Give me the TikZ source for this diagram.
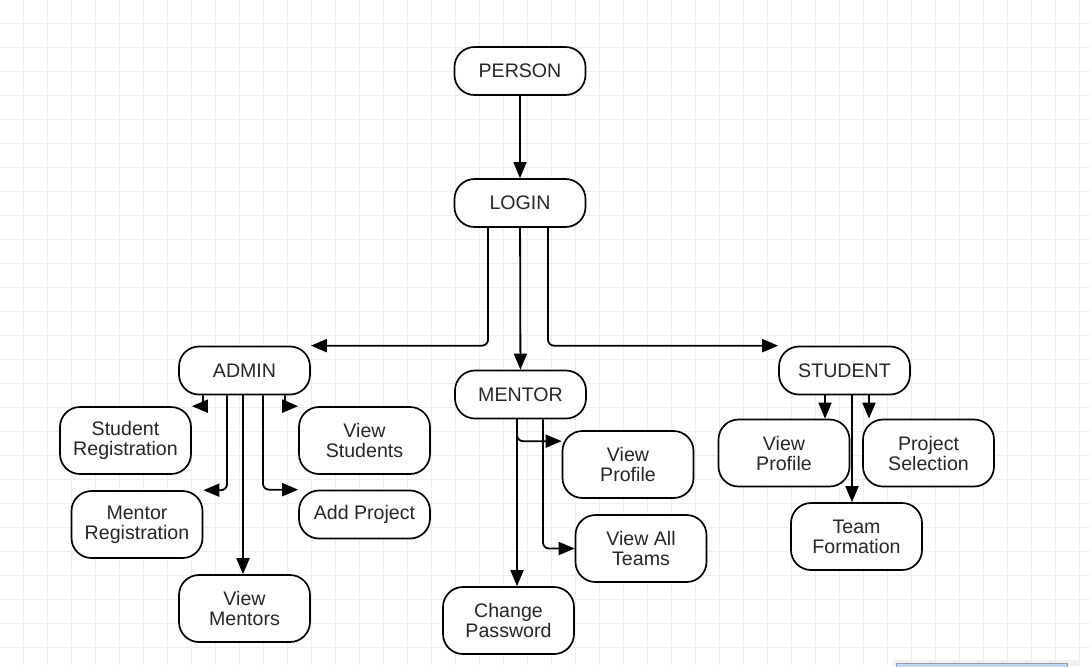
\documentclass[tikz,border=0pt]{standalone}
\usepackage{fontspec}
\setmainfont{Liberation Sans}
\usetikzlibrary{arrows.meta}
\definecolor{gridgray}{RGB}{238,238,238}
\definecolor{barblue}{RGB}{190,214,244}
\definecolor{barline}{RGB}{120,160,220}

\begin{document}
\begin{tikzpicture}[x=0.5pt,y=-0.5pt,
    box/.style={draw,line width=0.85pt,fill=white,rounded corners=10pt,
        minimum width=65.5pt,minimum height=24pt,align=center,inner sep=1pt,
        text=black!85,font=\fontsize{9.8}{10}\selectfont},
    tall/.style={box,minimum height=33.5pt},
    arr/.style={line width=0.9pt,rounded corners=3pt,-{Triangle[length=8pt,width=6.5pt]}}]
    \useasboundingbox (0,0) rectangle (1090,666);
    \clip (0,0) rectangle (1090,666);
    \fill[white] (0,0) rectangle (1090,666);
    % grid
    \foreach \i in {0,...,44}
        \draw[gridgray,line width=0.5pt] (23.3+24*\i,0) -- (23.3+24*\i,666);
    \foreach \j in {0,...,26}
        \draw[gridgray,line width=0.5pt] (0,23.3+24*\j) -- (1090,23.3+24*\j);
    \fill[black!6] (893,660) rectangle (1080,666);
    \draw[barline,fill=barblue,line width=0.5pt] (896,663) rectangle (1067,670);

    \node[box] (person) at (520,71) {PERSON};
    \node[box] (login) at (520,203) {LOGIN};
    \node[box] (admin) at (244.5,370.5) {ADMIN};
    \node[box] (mentor) at (520.5,394.5) {MENTOR};
    \node[box] (student) at (844.5,370.5) {STUDENT};

    \node[tall] (sreg) at (125.5,440.5) {Student\\Registration};
    \node[tall] (vstud) at (364.5,440.5) {View\\Students};
    \node[tall] (mreg) at (137,524.5) {Mentor\\Registration};
    \node[box] (addp) at (364.5,514.5) {Add Project};
    \node[tall] (vment) at (244.5,608.5) {View\\Mentors};

    \node[tall] (mprof) at (628,464.5) {View\\Profile};
    \node[tall] (mteams) at (641,548.5) {View All\\Teams};
    \node[tall] (chpw) at (508.5,620.5) {Change\\Password};

    \node[tall] (sprof) at (784,453) {View\\Profile};
    \node[tall] (psel) at (928.5,453) {Project\\Selection};
    \node[tall] (team) at (856.5,536.5) {Team\\Formation};

    \draw[arr] (person) -- (login);
    \draw[arr] ([xshift=-16pt]login.south) |- (admin.north east);
    \draw[arr] (login) -- (mentor);
    \draw[arr] ([xshift=14pt]login.south) |- (student.north west);

    % admin
    \draw[arr] ([xshift=-20.75pt]admin.south) |- (sreg.north east);
    \draw[arr] ([xshift=20.25pt]admin.south) |- (vstud.north west);
    \draw[arr] ([xshift=-8.75pt]admin.south) |- (mreg.north east);
    \draw[arr] ([xshift=9.25pt]admin.south) |- (addp.north west);
    \draw[arr] ([xshift=-0.75pt]admin.south) -- ([xshift=-0.75pt]vment.north);

    % mentor
    \draw[arr] ([xshift=-1.75pt]mentor.south) |- ([yshift=-5.5pt]mprof.north west);
    \draw[arr] ([xshift=11.25pt]mentor.south) |- (mteams.west);
    \draw[arr] ([xshift=-1.75pt]mentor.south) -- ([xshift=4.25pt]chpw.north);

    % student
    \draw[arr] ([xshift=-9.75pt]student.south) -- ([xshift=20.5pt]sprof.north);
    \draw[arr] ([xshift=12.25pt]student.south) -- ([xshift=-29.75pt]psel.north);
    \draw[arr] ([xshift=3.75pt]student.south) -- ([xshift=-2.25pt]team.north);
\end{tikzpicture}
\end{document}
